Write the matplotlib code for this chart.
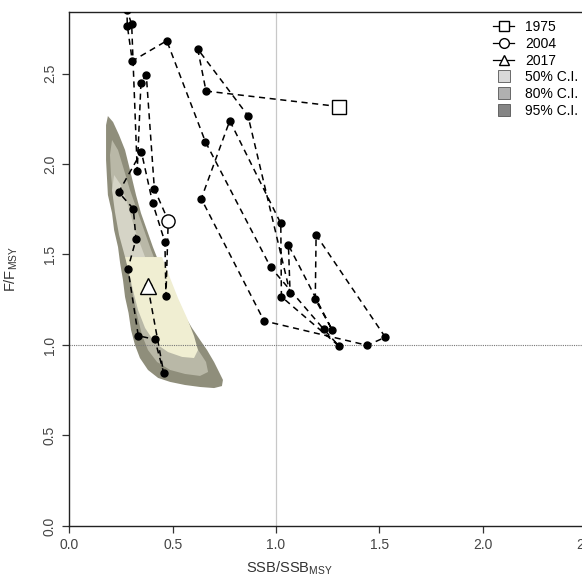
import matplotlib
matplotlib.use("Agg")
import matplotlib.pyplot as plt
from matplotlib.lines import Line2D

plt.rcParams['font.family'] = ['Liberation Sans', 'DejaVu Sans']
plt.rcParams['mathtext.fontset'] = 'custom'
plt.rcParams['mathtext.rm'] = 'Liberation Sans'
plt.rcParams['mathtext.it'] = 'Liberation Sans:italic'

# trajectory, 1975 -> 2017
ssb = [1.307, 0.661, 0.621, 0.864, 1.068, 1.060, 1.271, 1.190, 1.194, 1.529,
       1.442, 0.942, 0.638, 0.776, 1.023, 1.026, 1.305, 1.231, 0.974, 0.658,
       0.471, 0.304, 0.280, 0.278, 0.301, 0.328, 0.346, 0.372, 0.411, 0.478,
       0.467, 0.462, 0.403, 0.348, 0.238, 0.309, 0.322, 0.283, 0.333, 0.413,
       0.456, 0.379]
f = [2.317, 2.403, 2.635, 2.267, 1.287, 1.552, 1.085, 1.252, 1.608, 1.043,
     0.998, 1.133, 1.808, 2.239, 1.672, 1.267, 0.994, 1.087, 1.429, 2.123,
     2.681, 2.569, 2.764, 2.850, 2.773, 1.963, 2.449, 2.490, 1.862, 1.687,
     1.271, 1.569, 1.783, 2.068, 1.844, 1.753, 1.584, 1.422, 1.051, 1.031,
     0.847, 1.326]

marked_labels = ['1975', '2004', '2017']
marked_ssb = [1.307, 0.478, 0.379]
marked_f = [2.317, 1.687, 1.326]
marked_shapes = ['s', 'o', '^']

# confidence regions (outline points)
ssb95 = [0.186, 0.211, 0.240, 0.269, 0.293, 0.322, 0.346, 0.375, 0.404, 0.438,
         0.475, 0.511, 0.550, 0.593, 0.632, 0.666, 0.700, 0.724, 0.743, 0.738,
         0.700, 0.632, 0.559, 0.487, 0.429, 0.380, 0.341, 0.317, 0.298, 0.286,
         0.269, 0.259, 0.245, 0.235, 0.216, 0.206, 0.186, 0.182, 0.177, 0.177,
         0.177]
f95 = [2.265, 2.232, 2.160, 2.077, 1.967, 1.829, 1.729, 1.635, 1.541, 1.442,
       1.354, 1.265, 1.177, 1.094, 1.028, 0.972, 0.906, 0.851, 0.807, 0.773,
       0.762, 0.768, 0.779, 0.796, 0.818, 0.862, 0.928, 1.000, 1.083, 1.177,
       1.265, 1.359, 1.453, 1.541, 1.635, 1.729, 1.829, 1.912, 2.022, 2.133,
       2.215]
ssb80 = [0.206, 0.235, 0.264, 0.293, 0.327, 0.361, 0.395, 0.433, 0.472, 0.521,
         0.569, 0.617, 0.661, 0.671, 0.632, 0.559, 0.487, 0.424, 0.380, 0.351,
         0.327, 0.307, 0.288, 0.269, 0.249, 0.230, 0.211, 0.201, 0.196]
f80 = [2.133, 2.077, 1.967, 1.856, 1.746, 1.635, 1.525, 1.414, 1.304, 1.193,
       1.083, 0.983, 0.906, 0.851, 0.829, 0.840, 0.862, 0.906, 0.972, 1.055,
       1.166, 1.276, 1.387, 1.497, 1.608, 1.718, 1.829, 1.939, 2.050]
ssb50 = [0.269, 0.448, 0.487, 0.525, 0.569, 0.603, 0.622, 0.603, 0.545, 0.477,
         0.414, 0.366, 0.332, 0.307, 0.288]
f50 = [1.486, 1.486, 1.370, 1.260, 1.149, 1.050, 0.972, 0.928, 0.934, 0.961,
       1.011, 1.094, 1.193, 1.304, 1.403]
ssb50_top = [0.216, 0.249, 0.283, 0.317, 0.366, 0.269, 0.240, 0.220, 0.206]
f50_top = [1.939, 1.884, 1.773, 1.635, 1.486, 1.486, 1.608, 1.735, 1.856]

ci_labels = ['50% C.I.', '80% C.I.', '95% C.I.']
ci_legend_colors = ['#d8d8d8', '#b0b0b0', '#858585']

xticks = [0.0, 0.5, 1.0, 1.5, 2.0, 2.5]
yticks = [0.0, 0.5, 1.0, 1.5, 2.0, 2.5]

fig = plt.figure(figsize=(5.82, 5.78), dpi=100)
ax = fig.add_axes([0.1194, 0.0900, 0.9227, 0.8893])

ax.fill(ssb95, f95, color='#8f8e7b', lw=0)
ax.fill(ssb80, f80, color='#b9b8a7', lw=0)
ax.fill(ssb50_top, f50_top, color='#d5d4c6', lw=0)
ax.fill(ssb50, f50, color='#f0eed2', lw=0)

ax.axvline(1.0, color='#c8c8c8', lw=0.9, zorder=1)
ax.axhline(1.0, color='#777777', lw=0.8, ls=(0, (1, 1)), zorder=1)

ax.plot(ssb, f, color='black', ls=(0, (4, 3)), lw=1.1, zorder=3)
ax.plot(ssb, f, 'o', color='black', ms=5, zorder=4)

for x, y, m in zip(marked_ssb, marked_f, marked_shapes):
    size = 11 if m == '^' else 9.5
    ax.plot(x, y, marker=m, ms=size, mfc='white', mec='black', mew=1.0,
            ls='none', zorder=5)

ax.set_xlim(0, 2.6)
ax.set_ylim(0, 2.84)
ax.set_xticks(xticks)
ax.set_yticks(yticks)
ax.set_xticklabels([f'{v:.1f}' for v in xticks])
ax.set_yticklabels([f'{v:.1f}' for v in yticks], rotation=90, va='center')
ax.tick_params(direction='out', length=5, width=0.9, labelsize=10, pad=4,
               colors='#333333', labelcolor='#444444')
for s in ['left', 'bottom', 'top']:
    ax.spines[s].set_color('#222222')
    ax.spines[s].set_linewidth(1.0)
ax.spines['right'].set_visible(False)

ax.set_xlabel('SSB/SSB$_{\\mathrm{MSY}}$', fontsize=10.5, color='#333333')
ax.set_ylabel('F/F$_{\\mathrm{MSY}}$', fontsize=10.5, color='#333333')
ax.xaxis.set_label_coords(0.41, -0.065)
ax.yaxis.set_label_coords(-0.092, 0.5)

handles = [Line2D([0], [0], color='black', lw=0.9, marker=m, ms=7,
                  mfc='white', mec='black') for m in marked_shapes]
handles += [Line2D([0], [0], ls='none', marker='s', ms=8, mfc=c,
                   mec='#555555', mew=0.6) for c in ci_legend_colors]
labels = marked_labels + ci_labels
fig.legend(handles, labels, loc='upper left', bbox_to_anchor=(0.838, 0.975),
           frameon=False, fontsize=10, handlelength=1.5, handleheight=0.7,
           handletextpad=0.8, labelspacing=0.2, borderaxespad=0)

plt.savefig('out.png', dpi=100)
